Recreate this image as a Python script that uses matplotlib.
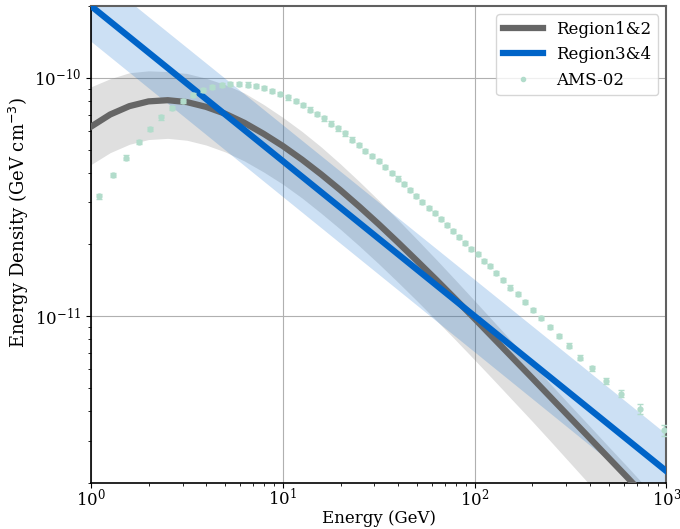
import numpy as np
import matplotlib
matplotlib.use('Agg')
import matplotlib.pyplot as plt
from matplotlib.ticker import NullFormatter

#model grid: log10 of energy in GeV, 0.1 decade steps
log_energy = [0.0, 0.1, 0.2, 0.3, 0.4, 0.5, 0.6, 0.7, 0.8, 0.9,
              1.0, 1.1, 1.2, 1.3, 1.4, 1.5, 1.6, 1.7, 1.8, 1.9,
              2.0, 2.1, 2.2, 2.3, 2.4, 2.5, 2.6, 2.7, 2.8, 2.9, 3.0]

#region1&2 curve, log10 of energy density (GeV cm^-3)
r12_log_mid = [-10.205, -10.154, -10.119, -10.099, -10.094, -10.102, -10.122, -10.151, -10.189, -10.235,
               -10.286, -10.343, -10.405, -10.471, -10.541, -10.614, -10.690, -10.768, -10.847, -10.928,
               -11.010, -11.093, -11.176, -11.259, -11.343, -11.427, -11.511, -11.595, -11.679, -11.764, -11.849]
#band half widths above / below the curve (dex)
r12_up_dex = [0.167, 0.150, 0.140, 0.128, 0.120, 0.120, 0.120, 0.122, 0.125, 0.123,
              0.120, 0.118, 0.115, 0.110, 0.105, 0.100, 0.095, 0.090, 0.085, 0.080,
              0.075, 0.070, 0.065, 0.060, 0.055, 0.052, 0.050, 0.047, 0.045, 0.042, 0.040]
r12_dn_dex = [0.159, 0.160, 0.160, 0.160, 0.160, 0.160, 0.160, 0.160, 0.160, 0.160,
              0.160, 0.161, 0.163, 0.164, 0.165, 0.166, 0.167, 0.168, 0.170, 0.171,
              0.173, 0.175, 0.178, 0.181, 0.185, 0.190, 0.195, 0.200, 0.205, 0.210, 0.215]

#region3&4 power law (straight in log-log), units of 1e-11 GeV cm^-3
r34_energy = [1.0, 1000.0]
r34_mid = [20.0, 0.224]
r34_hi = [28.2, 0.320]
r34_lo = [14.2, 0.158]

#AMS-02 points, units of 1e-11 GeV cm^-3
ams_energy = [1.104, 1.305, 1.520, 1.771, 2.036, 2.323, 2.657, 3.007, 3.399, 3.818,
              4.284, 4.797, 5.313, 5.926, 6.556, 7.239, 8.000, 8.806, 9.690, 10.67,
              11.66, 12.73, 13.85, 15.11, 16.44, 17.88, 19.45, 21.15, 22.93, 24.85,
              26.86, 29.14, 31.59, 34.16, 36.88, 39.68, 42.65, 46.00, 49.61, 53.24,
              57.58, 61.87, 66.58, 71.71, 77.10, 82.84, 89.35, 96.23, 103.7, 111.4,
              120.2, 129.7, 140.4, 152.8, 167.6, 182.9, 200.6, 221.7, 246.0, 275.1,
              310.1, 354.8, 408.9, 481.9, 581.3, 727.6, 967.0]
ams_value = [3.18, 3.90, 4.63, 5.37, 6.11, 6.82, 7.46, 8.01, 8.49, 8.89,
             9.17, 9.36, 9.44, 9.44, 9.37, 9.22, 9.04, 8.82, 8.53, 8.27,
             7.98, 7.68, 7.36, 7.06, 6.75, 6.43, 6.13, 5.84, 5.51, 5.24,
             4.95, 4.71, 4.46, 4.22, 3.99, 3.78, 3.58, 3.38, 3.20, 3.02,
             2.85, 2.70, 2.56, 2.41, 2.28, 2.15, 2.03, 1.92, 1.82, 1.70,
             1.62, 1.52, 1.42, 1.32, 1.24, 1.15, 1.06, 0.981, 0.903, 0.830,
             0.754, 0.671, 0.605, 0.535, 0.474, 0.409, 0.333]
#relative errors
ams_relerr = [0.02] * 60 + [0.02, 0.022, 0.025, 0.03, 0.035, 0.05, 0.055]

unit = 1e-11

plt.rcParams['font.family'] = 'serif'
plt.rcParams['mathtext.fontset'] = 'dejavusans'

fig = plt.figure(figsize=(6.8, 5.29), dpi=100)
ax = fig.add_axes([0.1338, 0.087, 0.8463, 0.9017])

gray_c = '#666666'
blue_c = '#0064c8'
ams_c = '#b2dccb'

e = 10 ** np.array(log_energy)
mid = 10 ** np.array(r12_log_mid)
hi = mid * 10 ** np.array(r12_up_dex)
lo = mid / 10 ** np.array(r12_dn_dex)
ax.fill_between(e, lo, hi, color='gray', alpha=0.25, lw=0, zorder=1)

e34 = np.array(r34_energy)
ax.fill_between(e34, np.array(r34_lo) * unit, np.array(r34_hi) * unit,
                color=blue_c, alpha=0.2, lw=0, zorder=2)

ax.plot(e, mid, color=gray_c, lw=4.5, label='Region1&2', zorder=3)
ax.plot(e34, np.array(r34_mid) * unit, color=blue_c, lw=4.5, label='Region3&4', zorder=4)

av = np.array(ams_value) * unit
ax.errorbar(ams_energy, av, yerr=av * np.array(ams_relerr), fmt='o', ms=3.5,
            color=ams_c, ecolor=ams_c, elinewidth=1, capsize=2, zorder=5)
ax.plot([], [], 'o', ms=3, color=ams_c, label='AMS-02')

ax.set_xscale('log'); ax.set_yscale('log')
ax.set_xlim(1, 1000)
ax.set_ylim(2.0e-12, 2.0e-10)
ax.xaxis.set_minor_formatter(NullFormatter())
ax.yaxis.set_minor_formatter(NullFormatter())
ax.grid(True, which='major', color='#b0b0b0', lw=0.8)
ax.set_axisbelow(True)
ax.tick_params(labelsize=12)
ax.tick_params(axis='x', pad=0)

for side in ['left', 'bottom']:
    ax.spines[side].set_color('black'); ax.spines[side].set_linewidth(1.2)
for side in ['top', 'right']:
    ax.spines[side].set_color('#606060'); ax.spines[side].set_linewidth(1.5)

ax.set_xlabel('Energy (GeV)', fontsize=12, labelpad=0)
ax.set_ylabel('Energy Density (GeV cm$^{-3}$)', fontsize=13)
ax.yaxis.set_label_coords(-0.104, 0.547)
ax.legend(loc='upper right', fontsize=12, handlelength=2.4)

fig.savefig('out.png', dpi=100)
